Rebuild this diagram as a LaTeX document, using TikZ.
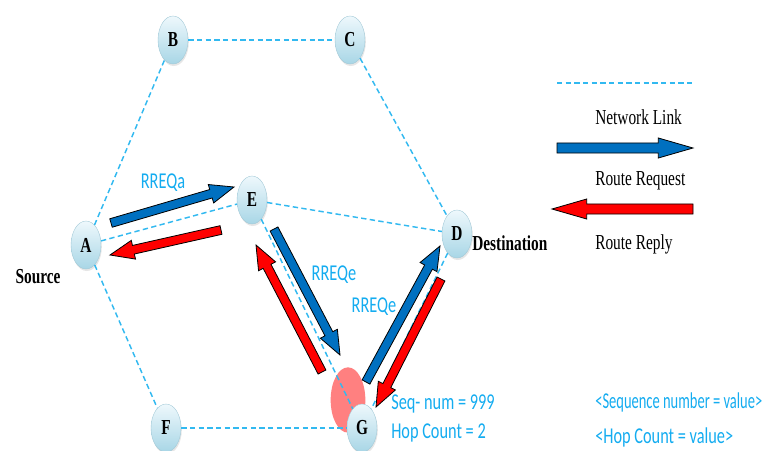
\documentclass[tikz,border=0pt]{standalone}
\usepackage{fontspec}
\setmainfont{Liberation Serif}[FakeStretch=0.72]
\newfontfamily\calfont{Carlito}[FakeStretch=0.72]
\newfontfamily\calnarrow{Carlito}[FakeStretch=0.64]
\usetikzlibrary{shapes.geometric,calc,shadows}
\definecolor{linkc}{RGB}{50,185,240}
\definecolor{txtc}{RGB}{20,172,240}
\definecolor{reqc}{RGB}{0,112,192}
\definecolor{repc}{RGB}{255,0,0}
\definecolor{pinkc}{RGB}{255,128,128}
\definecolor{nodetop}{RGB}{238,248,252}
\definecolor{nodebot}{RGB}{168,214,230}
\newcommand\blockarrow[6]{%
  \path ($(#3)!#6!(#2)$) coordinate (neck);
  \draw[arrowbody, fill=#1]
    ($(#2)!#4!-90:(#3)$) -- ($(neck)!#4!-90:(#3)$) -- ($(neck)!#5!-90:(#3)$)
    -- (#3) -- ($(neck)!#5!90:(#3)$) -- ($(neck)!#4!90:(#3)$)
    -- ($(#2)!#4!90:(#3)$) -- cycle;
}
\tikzset{
  net/.style={ellipse, minimum width=22.5pt, minimum height=36pt, inner sep=0pt,
    top color=nodetop, bottom color=nodebot, draw=nodebot!85!gray, line width=0.3pt,
    font=\fontsize{16}{18}\selectfont\bfseries,
    drop shadow={opacity=0.2, shadow xshift=0.6pt, shadow yshift=-1.5pt}},
  link/.style={draw=linkc, dash pattern=on 4pt off 2.5pt, line width=1.1pt},
  arrowbody/.style={draw=black, line width=0.6pt, line join=miter},
  lab/.style={font=\fontsize{16}{18}\selectfont, inner sep=0pt},
  blab/.style={font=\fontsize{16}{18}\selectfont\bfseries, inner sep=0pt},
  clab/.style={font=\calfont\fontsize{17}{19}\selectfont, text=txtc, inner sep=0pt}
}
\begin{document}
\begin{tikzpicture}[x=0.75pt, y=-0.75pt]
\useasboundingbox (0,0) rectangle (777,450);
% highlight behind G
\node[ellipse, fill=pinkc, minimum width=26pt, minimum height=49pt, inner sep=0pt] (hl) at (348,400) {};
% nodes
\node[net] (A) at (86,245) {A};
\node[net] (B) at (173,40) {B};
\node[net] (C) at (350,40) {C};
\node[net] (D) at (457,234) {D};
\node[net] (E) at (252,200) {E};
\node[net] (F) at (166,428) {F};
\node[net] (G) at (362,428) {G};
% links
\draw[link] (A) -- (B);
\draw[link] (B) -- (C);
\draw[link] (C) -- (D);
\draw[link] (A) -- (E);
\draw[link] (E) -- (D);
\draw[link] (E) -- (G);
\draw[link] (D) -- (G);
\draw[link] (A) -- (F);
\draw[link] (F) -- (G);
% arrow end points
\coordinate (ae1) at (111,223); \coordinate (ae2) at (234,187);
\coordinate (ea1) at (221,230); \coordinate (ea2) at (110,255);
\coordinate (eg1) at (274,229); \coordinate (eg2) at (340,355);
\coordinate (ge1) at (322,372); \coordinate (ge2) at (256,245);
\coordinate (gd1) at (366,382); \coordinate (gd2) at (440,246);
\coordinate (dg1) at (441,279); \coordinate (dg2) at (376,407);
\blockarrow{reqc}{ae1}{ae2}{3.3pt}{7.2pt}{18pt}
\blockarrow{repc}{ea1}{ea2}{3.3pt}{7.2pt}{18pt}
\blockarrow{reqc}{eg1}{eg2}{3.3pt}{7.2pt}{18pt}
\blockarrow{repc}{ge1}{ge2}{3.3pt}{7.2pt}{18pt}
\blockarrow{reqc}{gd1}{gd2}{3.3pt}{7.2pt}{18pt}
\blockarrow{repc}{dg1}{dg2}{3.3pt}{7.2pt}{18pt}
% labels
\node[blab] (src) at (38,277) {Source};
\node[blab, anchor=west] (dst) at (472,243) {Destination};
\node[clab] (rqa) at (163,183) {RREQa};
\node[clab] (rqe1) at (334,275) {RREQe};
\node[clab] (rqe2) at (374,307) {RREQe};
\node[clab, anchor=west] (seq) at (391,404) {Seq- num = 999};
\node[clab, anchor=west] (hop) at (391,433) {Hop Count = 2};
% legend
\coordinate (lk1) at (557,83); \coordinate (lk2) at (693,83);
\draw[link] (lk1) -- (lk2);
\node[lab, anchor=west] (lnl) at (595,117) {Network Link};
\coordinate (lq1) at (557,148); \coordinate (lq2) at (693,148);
\blockarrow{reqc}{lq1}{lq2}{3.8pt}{7.5pt}{26pt}
\node[lab, anchor=west] (lrq) at (595,181) {Route Request};
\coordinate (lr1) at (693,209); \coordinate (lr2) at (552,209);
\blockarrow{repc}{lr1}{lr2}{3.8pt}{7.5pt}{26pt}
\node[lab, anchor=west] (lrp) at (595,244) {Route Reply};
\node[clab, font=\calnarrow\fontsize{17}{19}\selectfont, anchor=west] (lsq) at (595,402) {<Sequence number = value>};
\node[clab, anchor=west] (lhc) at (595,437) {<Hop Count = value>};
\end{tikzpicture}
\end{document}
